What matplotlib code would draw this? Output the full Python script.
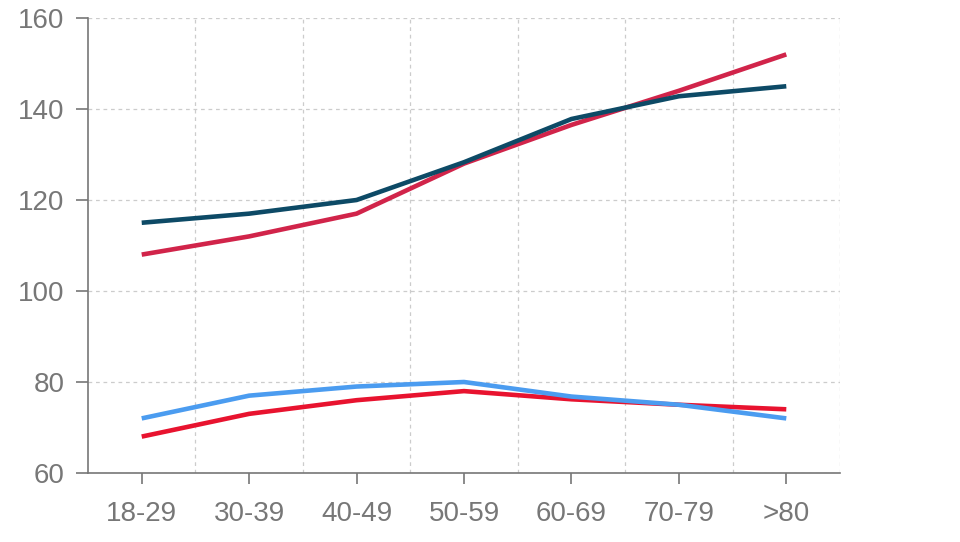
import matplotlib
matplotlib.use("Agg")
import matplotlib.pyplot as plt
import numpy as np

# age groups on the x axis
age_groups = ["18-29", "30-39", "40-49", "50-59", "60-69", "70-79", ">80"]

# four series
navy_vals = [115, 117, 120, 128.3, 137.8, 142.8, 145]
crimson_vals = [108, 112, 117, 128, 136.5, 144, 152]
blue_vals = [72, 77, 79, 80, 76.8, 75, 72]
red_vals = [68, 73, 76, 78, 76.2, 75, 74]

y_ticks = [60, 80, 100, 120, 140, 160]

plt.rcParams['font.family'] = ['Liberation Sans', 'DejaVu Sans']

fig = plt.figure(figsize=(9.6, 5.42), dpi=100)
ax = fig.add_axes([88/960, 1 - 473/542, (840 - 88)/960, (473 - 18)/542])

x = np.arange(len(age_groups))
ax.plot(x, red_vals, color="#e8132f", lw=3.3, solid_capstyle="butt", zorder=3)
ax.plot(x, blue_vals, color="#4b9cf0", lw=3.3, solid_capstyle="butt", zorder=4)
ax.plot(x, crimson_vals, color="#d1244a", lw=3.3, solid_capstyle="butt", zorder=5)
ax.plot(x, navy_vals, color="#0d4a66", lw=3.3, solid_capstyle="butt", zorder=6)

ax.set_xlim(-0.5, len(age_groups) - 0.5)
ax.set_ylim(60, 160)
ax.set_xticks(x)
ax.set_xticklabels(age_groups)
ax.set_xticks(np.arange(len(age_groups)) + 0.5, minor=True)
ax.set_yticks(y_ticks)

grid_kw = dict(color="#cccccc", linestyle=(0, (3, 3)), linewidth=0.9)
ax.grid(axis="x", which="minor", **grid_kw)
ax.grid(axis="y", which="major", **grid_kw)
ax.set_axisbelow(True)

for side in ["top", "right"]:
    ax.spines[side].set_visible(False)
for side in ["left", "bottom"]:
    ax.spines[side].set_color("#777777")
    ax.spines[side].set_linewidth(1.2)

ax.tick_params(axis="x", which="major", length=8, width=1.2, color="#777777",
               labelcolor="#777777", labelsize=20, pad=12)
ax.tick_params(axis="x", which="minor", length=0)
ax.tick_params(axis="y", length=9, width=1.2, color="#777777",
               labelcolor="#777777", labelsize=20, pad=8)

fig.savefig("out.png", dpi=100)
